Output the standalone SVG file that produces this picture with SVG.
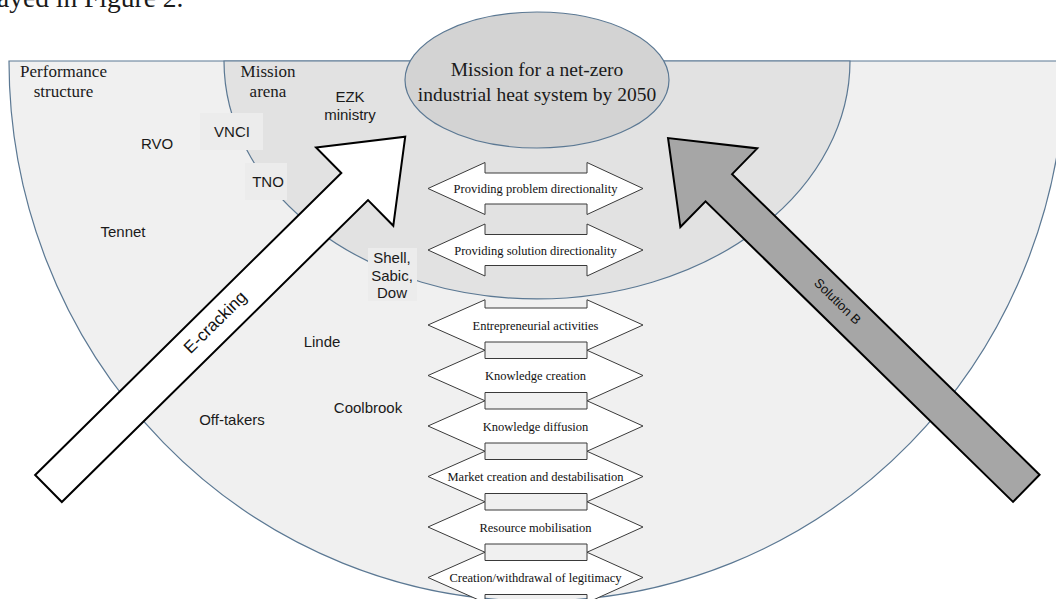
<svg xmlns="http://www.w3.org/2000/svg" width="1056" height="599" viewBox="0 0 1056 599">
<defs>
<style>
.region{stroke:#5b7893;stroke-width:1.2}
.serif{font-family:"Liberation Serif","Times New Roman",serif;fill:#1a1a1a}
.sans{font-family:"Liberation Sans",Arial,sans-serif;fill:#1a1a1a;font-size:15px;text-anchor:middle}
.dbl{fill:#ffffff;stroke:#3a3a3a;stroke-width:1}
.dtxt{font-family:"Liberation Serif","Times New Roman",serif;font-size:12.5px;fill:#111;text-anchor:middle}
.lbox{fill:#ececec}
.big{stroke:#000;stroke-width:2;stroke-linejoin:miter}
</style>
<path id="bigArrow" d="M0,-19 H430 V-55 L501,0 L430,55 V19 H0 Z"/>
</defs>
<rect width="1056" height="599" fill="#ffffff"/>
<text class="serif" x="-3" y="7" font-size="27.5">ayed in Figure 2.</text>

<g id="performance-structure">
<path class="region" d="M9,61 A528,540 0 0 0 1065,61 Z" fill="#f0f0f0"/>
<text class="serif" font-size="17" text-anchor="middle"><tspan x="63.5" y="77">Performance</tspan><tspan x="63.5" y="97">structure</tspan></text>
</g>
<g id="mission-arena">
<path class="region" d="M224,61 A313,238 0 0 0 850,61 Z" fill="#e2e2e2"/>
<text class="serif" font-size="17" text-anchor="middle"><tspan x="268" y="77">Mission</tspan><tspan x="268" y="97">arena</tspan></text>
</g>
<g id="mission">
<ellipse class="region" cx="537" cy="80" rx="132" ry="68" fill="#d3d3d3"/>
<text class="serif" font-size="19.5" text-anchor="middle"><tspan x="537" y="76">Mission for a net-zero</tspan><tspan x="537" y="101">industrial heat system by 2050</tspan></text>
</g>

<g id="actor-ezk"><text class="sans"><tspan x="350" y="102">EZK</tspan><tspan x="350" y="120">ministry</tspan></text></g>
<g id="actor-vnci"><rect class="lbox" x="200" y="113" width="63" height="37"/><text class="sans" x="232" y="137">VNCI</text></g>
<g id="actor-tno"><rect class="lbox" x="245" y="163" width="42" height="37"/><text class="sans" x="268" y="187">TNO</text></g>
<g id="actor-rvo"><text class="sans" x="157" y="149">RVO</text></g>
<g id="actor-tennet"><text class="sans" x="123" y="237">Tennet</text></g>
<g id="actor-shell"><rect class="lbox" x="368" y="248" width="49" height="53"/><text class="sans"><tspan x="392" y="263">Shell,</tspan><tspan x="392" y="281">Sabic,</tspan><tspan x="392" y="298">Dow</tspan></text></g>
<g id="actor-linde"><text class="sans" x="322" y="347">Linde</text></g>
<g id="actor-coolbrook"><text class="sans" x="368" y="413">Coolbrook</text></g>
<g id="actor-offtakers"><text class="sans" x="232" y="425">Off-takers</text></g>

<g id="function-problem"><path class="dbl" d="M428,188.5 L485,162.5 V173 H587 V162.5 L643,188.5 L587,214.5 V204 H485 V214.5 Z"/><text class="dtxt" x="535.5" y="193">Providing problem directionality</text></g>
<g id="function-solution"><path class="dbl" d="M428,250 L485,224 V234.5 H587 V224 L643,250 L587,276 V265.5 H485 V276 Z"/><text class="dtxt" x="535.5" y="254.5">Providing solution directionality</text></g>
<g id="function-entrepreneurial"><path class="dbl" d="M428,325 L485,299.75 V308 H587 V299.75 L643,325 L587,350.25 V342 H485 V350.25 Z"/><text class="dtxt" x="535.5" y="329.5">Entrepreneurial activities</text></g>
<g id="function-knowledge-creation"><path class="dbl" d="M428,375.5 L485,350.25 V358.5 H587 V350.25 L643,375.5 L587,400.75 V392.5 H485 V400.75 Z"/><text class="dtxt" x="535.5" y="380">Knowledge creation</text></g>
<g id="function-knowledge-diffusion"><path class="dbl" d="M428,426 L485,400.75 V409 H587 V400.75 L643,426 L587,451.25 V443 H485 V451.25 Z"/><text class="dtxt" x="535.5" y="430.5">Knowledge diffusion</text></g>
<g id="function-market"><path class="dbl" d="M428,476.5 L485,451.25 V459.5 H587 V451.25 L643,476.5 L587,501.75 V493.5 H485 V501.75 Z"/><text class="dtxt" x="535.5" y="481">Market creation and destabilisation</text></g>
<g id="function-resource"><path class="dbl" d="M428,527 L485,501.75 V510 H587 V501.75 L643,527 L587,552.25 V544 H485 V552.25 Z"/><text class="dtxt" x="535.5" y="531.5">Resource mobilisation</text></g>
<g id="function-legitimacy"><path class="dbl" d="M428,577.5 L485,552.25 V560.5 H587 V552.25 L643,577.5 L587,602.75 V594.5 H485 V602.75 Z"/><text class="dtxt" x="535.5" y="582">Creation/withdrawal of legitimacy</text></g>

<g id="connectors">
<g id="arrow-ecracking">
<use href="#bigArrow" class="big" fill="#ffffff" transform="translate(48.5,488.5) rotate(-44.6)"/>
<text transform="translate(215,322) rotate(-44.6)" y="6" font-family="Liberation Sans, Arial, sans-serif" font-size="17" fill="#111" text-anchor="middle">E-cracking</text>
</g>
<g id="arrow-solution-b">
<use href="#bigArrow" class="big" fill="#a6a6a6" transform="translate(1026.3,488.3) rotate(-135.65)"/>
<text transform="translate(838,301) rotate(44.35)" y="5" font-family="Liberation Sans, Arial, sans-serif" font-size="13" fill="#111" text-anchor="middle">Solution B</text>
</g>
</g>
</svg>
